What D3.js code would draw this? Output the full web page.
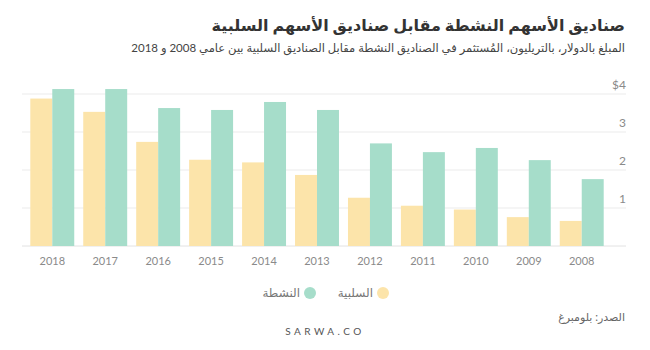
<!DOCTYPE html>
<html><head><meta charset="utf-8">
<script src="https://cdn.jsdelivr.net/npm/d3@7"></script>
<style>
html,body{margin:0;padding:0;background:#fff;}
text{font-family:Lato,"Noto Sans","DejaVu Sans",sans-serif;}
</style></head>
<body><svg id="c" width="650" height="350"></svg>
<script>
const years = ["2018","2017","2016","2015","2014","2013","2012","2011","2010","2009","2008"];
const passive = [3.88,3.53,2.74,2.27,2.20,1.87,1.27,1.06,0.96,0.76,0.66];
const active  = [4.13,4.13,3.63,3.58,3.79,3.58,2.70,2.47,2.58,2.26,1.76];
const yTicks = [1,2,3,4];
const seriesNames = ["السلبية","النشطة"];
const colors = ["#fce4aa","#a6ddca"];
const title = "صناديق الأسهم النشطة مقابل صناديق الأسهم السلبية";
const subtitle = "المبلغ بالدولار، بالتريليون، المُستثمر في الصناديق النشطة مقابل الصناديق السلبية بين عامي 2008 و 2018";
const source = "الصدر: بلومبرغ";
const brand = "SARWA.CO";

const svg = d3.select("#c");
const left = 22, right = 626, y0 = 246, yTop = 94;
const x = d3.scaleBand().domain(years).range([25.8, 608.2]).paddingInner(0.17).paddingOuter(0.085);
const xs = d3.scaleBand().domain([0,1]).range([0, x.bandwidth()]);
const y = d3.scaleLinear().domain([0,4]).range([y0, yTop]);

svg.append("g").selectAll("line").data([0].concat(yTicks)).join("line")
  .attr("x1", left).attr("x2", right)
  .attr("y1", d => y(d)).attr("y2", d => y(d))
  .attr("stroke", d => d===0 ? "#e2e2e2" : "#ebebeb").attr("stroke-width", 1);

svg.append("g").selectAll("text").data(yTicks).join("text")
  .attr("x", right).attr("y", d => y(d) - 5)
  .attr("text-anchor", "end").attr("font-size", 12).attr("fill", "#8a8a8a")
  .text(d => d === 4 ? "$4" : d);

const groups = svg.append("g").selectAll("g").data(years).join("g")
  .attr("transform", d => `translate(${x(d)},0)`);
groups.each(function(yr, i){
  const vals = [passive[i], active[i]];
  d3.select(this).selectAll("rect").data(vals).join("rect")
    .attr("x", (v,j) => xs(j)).attr("width", xs.bandwidth())
    .attr("y", v => y(v)).attr("height", v => y0 - y(v))
    .attr("fill", (v,j) => colors[j]);
});

svg.append("g").selectAll("text").data(years).join("text")
  .attr("x", d => x(d) + x.bandwidth()/2).attr("y", 265)
  .attr("text-anchor", "middle").attr("font-size", 11).attr("fill", "#8a8a8a")
  .text(d => d);

svg.append("text").attr("x", 625).attr("y", 31)
  .attr("direction","rtl").attr("text-anchor","start")
  .attr("font-size", 16).attr("font-weight","bold").attr("fill","#333")
  .text(title);
svg.append("text").attr("x", 625).attr("y", 52)
  .attr("direction","rtl").attr("text-anchor","start")
  .attr("font-size", 11.5).attr("fill","#444")
  .text(subtitle);

const leg = [{c:colors[0], t:seriesNames[0], cx:383}, {c:colors[1], t:seriesNames[1], cx:310}];
leg.forEach(l => {
  svg.append("circle").attr("cx", l.cx).attr("cy", 293).attr("r", 6).attr("fill", l.c);
  svg.append("text").attr("x", l.cx - 10).attr("y", 297)
    .attr("direction","rtl").attr("text-anchor","start")
    .attr("font-size", 12).attr("fill","#777").text(l.t);
});

svg.append("text").attr("x", 625).attr("y", 321)
  .attr("direction","rtl").attr("text-anchor","start")
  .attr("font-size", 11).attr("fill","#666").text(source);

svg.append("text").attr("x", 325).attr("y", 335)
  .attr("text-anchor","middle").attr("font-size", 10).attr("letter-spacing", 3.5)
  .attr("fill","#555").text(brand);
</script></body></html>
